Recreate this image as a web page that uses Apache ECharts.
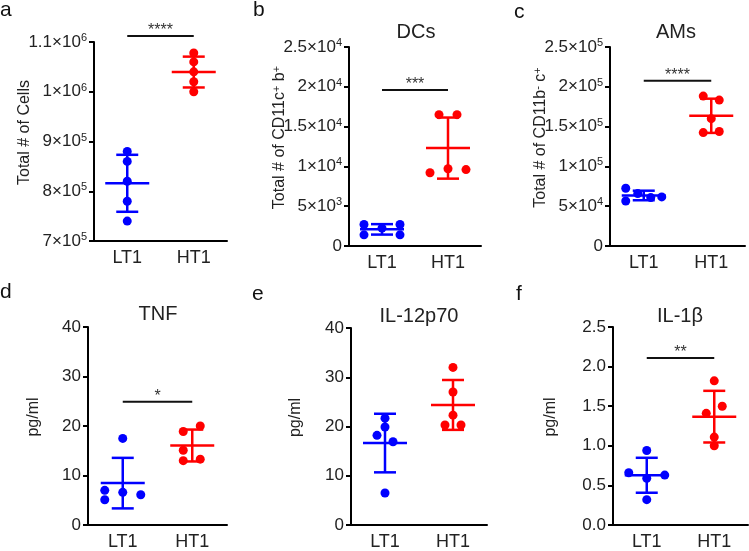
<!DOCTYPE html>
<html>
<head>
<meta charset="utf-8">
<script src="https://cdn.jsdelivr.net/npm/echarts@6/dist/echarts.min.js"></script>
<style>
  html, body { margin: 0; padding: 0; background: #fff; }
  #main { width: 749px; height: 551px; }
</style>
</head>
<body>
<div id="main"></div>
<script>
  // groups on every x axis
  const groups = ['LT1', 'HT1'];
  const colors = ['#0000ff', '#ff0000'];

  // a - total cells
  const cellsLT1 = [880000, 860000, 820000, 780000, 740000];
  const cellsHT1 = [1078000, 1060000, 1040000, 1020000, 1000000];
  // b - DCs
  const dcLT1 = [2700, 2250, 2700, 1400, 1400];
  const dcHT1 = [16500, 16500, 9200, 9700, 9600];
  // c - AMs
  const amLT1 = [72500, 56600, 65800, 60800, 61700];
  const amHT1 = [188300, 183300, 160000, 142500, 143800];
  // d - TNF
  const tnfLT1 = [17.5, 7.0, 5.1, 6.6, 6.1];
  const tnfHT1 = [18.9, 20.0, 15.1, 13.0, 13.3];
  // e - IL-12p70
  const il12LT1 = [21.7, 19.9, 18.2, 16.9, 6.5];
  const il12HT1 = [32.0, 27.0, 22.3, 20.3, 20.3];
  // f - IL-1b
  const il1bLT1 = [0.94, 0.66, 0.59, 0.63, 0.32];
  const il1bHT1 = [1.82, 1.50, 1.41, 1.11, 1.00];

  // horizontal spread of the dots (px), as in the scatter dot plot
  const jitter = [
    [[0, 0, 0, 0, 0], [0, 0, 0, 0, 0]],
    [[-18, 0, 18, -18, 18], [-9, 9, -18, 0, 18]],
    [[-18, -18, -6, 7, 18], [-8, 8, 0, -8, 8]],
    [[0, -18, -18, 0, 18], [-9, 8, -9, -9, 8]],
    [[0, 0, -8, 8, 0], [0, 0, 0, -8, 8]],
    [[0, -18, 0, 18, 0], [0, 8, -8, 0, 0]]
  ];

  const panelData = [
    [cellsLT1, cellsHT1], [dcLT1, dcHT1], [amLT1, amHT1],
    [tnfLT1, tnfHT1], [il12LT1, il12HT1], [il1bLT1, il1bHT1]
  ];
  const letters = ['a', 'b', 'c', 'd', 'e', 'f'];
  const titles = ['', 'DCs', 'AMs', 'TNF', 'IL-12p70', 'IL-1β'];
  const yNames = [
    'Total # of Cells',
    '{n|Total # of CD11c}{s|+}{n| b}{s|+}',
    '{n|Total # of CD11b}{s|-}{n| c}{s|+}',
    'pg/ml', 'pg/ml', 'pg/ml'
  ];
  const yMin = [700000, 0, 0, 0, 0, 0];
  const yMax = [1100000, 25000, 250000, 40, 40, 2.5];
  const yStep = [100000, 5000, 50000, 10, 10, 0.5];
  // significance bars: level in data units and stars (null = none)
  const sigLevel = [1112000, 19600, 207500, 24.9, null, 2.11];
  const sigText = ['****', '***', '****', '*', '', '**'];

  const grids = [
    {left: 94, top: 42, width: 133, height: 199},
    {left: 349, top: 47, width: 132, height: 199},
    {left: 610, top: 47, width: 135, height: 199},
    {left: 88, top: 327, width: 139, height: 200},
    {left: 351, top: 328, width: 136, height: 200},
    {left: 613, top: 327, width: 135, height: 200}
  ];
  const nameGaps = [61, 60, 60, 46, 47, 54];
  const font = 'Liberation Sans, Arial, Helvetica, sans-serif';

  function sci(v) {
    if (v === 0) return '0';
    const e = Math.floor(Math.log10(v) + 1e-9);
    const m = +(v / Math.pow(10, e)).toFixed(2);
    return '{n|' + m + '×10}{s|' + e + '}';
  }

  function stats(arr) {
    const m = arr.reduce((a, b) => a + b, 0) / arr.length;
    const v = arr.reduce((a, b) => a + (b - m) * (b - m), 0) / (arr.length - 1);
    return [m, Math.sqrt(v)];
  }

  const xAxis = [], yAxis = [], series = [], graphic = [];

  panelData.forEach((pd, k) => {
    xAxis.push({
      type: 'category', gridIndex: k, data: groups,
      axisLine: {lineStyle: {color: '#000', width: 2}},
      axisTick: {alignWithLabel: true, length: 5, lineStyle: {color: '#000', width: 2}},
      axisLabel: {fontSize: 18, color: '#222', margin: 8, fontFamily: font}
    });
    yAxis.push({
      type: 'value', gridIndex: k,
      min: yMin[k], max: yMax[k], interval: yStep[k],
      splitLine: {show: false},
      axisLine: {show: true, lineStyle: {color: '#000', width: 2}},
      axisTick: {show: true, length: 5, lineStyle: {color: '#000', width: 2}},
      axisLabel: {
        margin: 7, color: '#222', fontSize: 17, fontFamily: font,
        formatter: k < 3 ? sci : (k === 5 ? (v => v.toFixed(1)) : null),
        rich: {
          n: {fontSize: 17, color: '#222', fontFamily: font, lineHeight: 19},
          s: {fontSize: 11, color: '#222', fontFamily: font, lineHeight: 10, verticalAlign: 'top'}
        }
      },
      name: yNames[k], nameLocation: 'middle', nameGap: nameGaps[k],
      nameMoveOverlap: false,
      nameTextStyle: {
        fontSize: 16, color: '#222', fontFamily: font, padding: [0, 0, 0, 18],
        rich: {
          n: {fontSize: 16, color: '#222', fontFamily: font, lineHeight: 18},
          s: {fontSize: 11, color: '#222', fontFamily: font, lineHeight: 10, verticalAlign: 'top'}
        }
      }
    });

    pd.forEach((vals, g) => {
      series.push({
        type: 'scatter', xAxisIndex: k, yAxisIndex: k,
        symbol: 'circle', symbolSize: 9,
        itemStyle: {color: colors[g], opacity: 1},
        z: 3,
        data: vals.map((v, i) => ({value: [g, v], symbolOffset: [jitter[k][g][i], 0]}))
      });
    });

    // mean +/- SD
    series.push({
      type: 'custom', xAxisIndex: k, yAxisIndex: k, z: 4,
      data: pd.map((vals, g) => [g].concat(stats(vals))),
      renderItem: function (params, api) {
        const g = api.value(0), m = api.value(1), s = api.value(2);
        const c = api.coord([g, m]);
        const t = api.coord([g, m + s]);
        const b = api.coord([g, m - s]);
        const st = {stroke: colors[g], lineWidth: 2.5};
        return {
          type: 'group',
          children: [
            {type: 'line', shape: {x1: c[0] - 22, y1: c[1], x2: c[0] + 22, y2: c[1]}, style: st},
            {type: 'line', shape: {x1: c[0], y1: t[1], x2: c[0], y2: b[1]}, style: st},
            {type: 'line', shape: {x1: c[0] - 11, y1: t[1], x2: c[0] + 11, y2: t[1]}, style: st},
            {type: 'line', shape: {x1: c[0] - 11, y1: b[1], x2: c[0] + 11, y2: b[1]}, style: st}
          ]
        };
      }
    });

    if (sigLevel[k] !== null) {
      series.push({
        type: 'custom', xAxisIndex: k, yAxisIndex: k, z: 5, clip: false,
        data: [[0, sigLevel[k]]],
        renderItem: function (params, api) {
          const p0 = api.coord([0, api.value(1)]);
          const p1 = api.coord([1, api.value(1)]);
          return {
            type: 'group',
            children: [
              {type: 'line', shape: {x1: p0[0], y1: p0[1], x2: p1[0], y2: p1[1]},
               style: {stroke: '#111', lineWidth: 2}},
              {type: 'text', x: (p0[0] + p1[0]) / 2, y: p0[1] + 3,
               style: {text: sigText[k], align: 'center', verticalAlign: 'bottom',
                       fontSize: 16, fill: '#333', fontFamily: font}}
            ]
          };
        }
      });
    }
  });

  // panel letters
  const letterPos = [[0, 0], [253, 0], [514, 2], [0, 282], [252, 284], [516, 284]];
  letters.forEach((l, k) => {
    graphic.push({type: 'text', left: letterPos[k][0], top: letterPos[k][1],
      style: {text: l, fontSize: 21, fill: '#111', fontFamily: font}});
  });
  // panel titles
  const titlePos = [[0, 0], [416, 22], [676, 22], [158, 304], [419, 306], [680, 306]];
  titles.forEach((t, k) => {
    if (!t) return;
    graphic.push({type: 'text', x: titlePos[k][0], y: titlePos[k][1],
      style: {text: t, fontSize: 20, fill: '#222', align: 'center', fontFamily: font}});
  });

  const chart = echarts.init(document.getElementById('main'));
  chart.setOption({
    animation: false,
    backgroundColor: '#fff',
    grid: grids,
    xAxis: xAxis,
    yAxis: yAxis,
    series: series,
    graphic: graphic
  });
</script>
</body>
</html>
